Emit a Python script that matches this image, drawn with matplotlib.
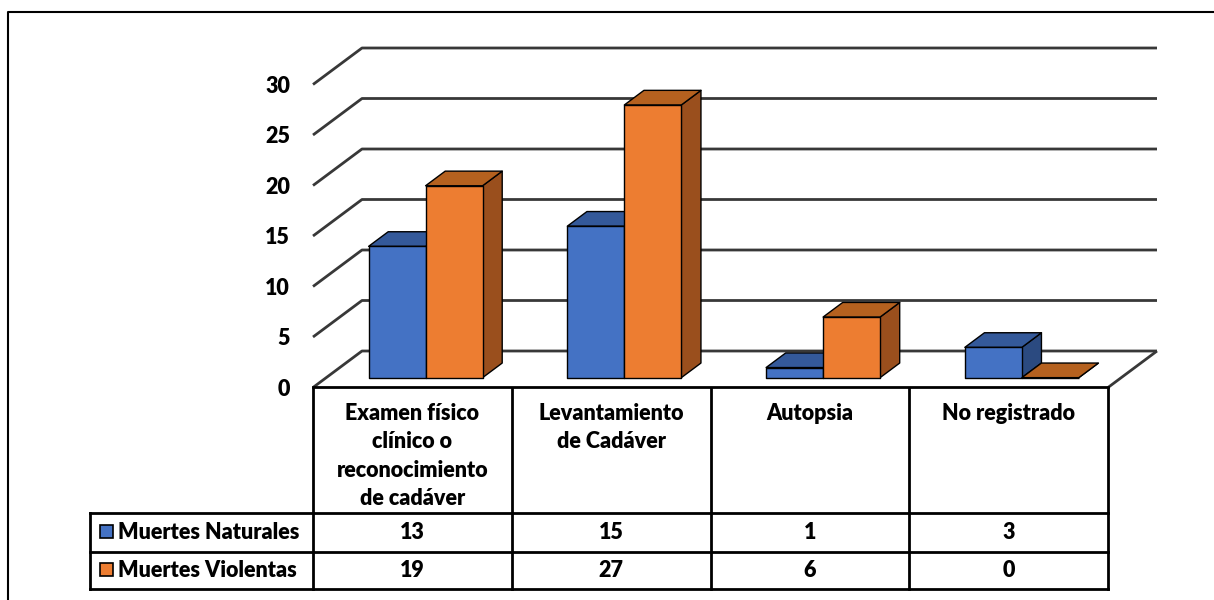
import matplotlib
matplotlib.use("Agg")
import matplotlib.pyplot as plt
from matplotlib.patches import Polygon, Rectangle
from matplotlib.transforms import Affine2D, ScaledTranslation, blended_transform_factory

plt.rcParams['font.family'] = ['Lato', 'DejaVu Sans']

# ---- data ----
categories = ["Examen físico\nclínico o\nreconocimiento\nde cadáver",
              "Levantamiento\nde Cadáver",
              "Autopsia",
              "No registrado"]
series_names = ["Muertes Naturales", "Muertes Violentas"]
naturales = [13, 15, 1, 3]
violentas = [19, 27, 6, 0]
y_ticks = [0, 5, 10, 15, 20, 25, 30]

front_colors = ["#4472C4", "#ED7D31"]
top_colors = ["#34599A", "#B5611F"]
side_colors = ["#2B4A80", "#9A4F1D"]

FS = 15.5
FW = "heavy"

W, H = 1214, 600
fig = plt.figure(figsize=(W / 100, H / 100), dpi=100)
ax = fig.add_axes([0, 0, 1, 1])
ax.axis("off")

# plot scale: one category = cat_px pixels, one unit of value = val_px pixels
cat_px = 198.75
val_px = 10.1
x0_px, y0_px = 313, 387.5
ax.set_xlim(-x0_px / cat_px, (W - x0_px) / cat_px)
ax.set_ylim(-(H - y0_px) / val_px, y0_px / val_px)

# oblique depth offset (full depth of the floor) in data units
DX = 49 / cat_px
DY = 36.5 / val_px
n = len(categories)


def proj(x, v, d):
    return (x + d * DX, v + d * DY)


def down(px):
    """Shift a transform downwards by px pixels."""
    return ScaledTranslation(0, -px / 100, fig.dpi_scale_trans)


grid_kw = dict(color="#383838", lw=2.0, solid_capstyle="butt", zorder=1)

# back wall and left wall grid lines with value labels
tick_tr = ax.transData + down(8.5)
for t in y_ticks:
    xa, ya = proj(0, t, 0)
    xb, yb = proj(0, t, 1)
    xc, yc = proj(n, t, 1)
    ax.plot([xa, xb, xc], [ya, yb, yc], **grid_kw)
    ax.text(-23 / cat_px, t, str(t), ha="right", va="baseline",
            fontsize=FS, fontweight=FW, color="black", transform=tick_tr)

# floor right edge and front edge
xa, ya = proj(n, 0, 0)
xb, yb = proj(n, 0, 1)
ax.plot([xa, xb], [ya, yb], **grid_kw)
ax.plot([0, n], [0, 0], color="black", lw=2, zorder=1)

# bars
bar_w = 57 / cat_px
d0, d1 = 0.27, 0.67
series = [naturales, violentas]
for i in range(n):
    center = i + 0.5
    for s, vals in enumerate(series):
        v = vals[i]
        left = center - bar_w + s * bar_w
        right = left + bar_w
        z = 3 + i * 2 + s
        front = [proj(left, 0, d0), proj(right, 0, d0),
                 proj(right, v, d0), proj(left, v, d0)]
        top = [proj(left, v, d0), proj(right, v, d0),
               proj(right, v, d1), proj(left, v, d1)]
        side = [proj(right, 0, d0), proj(right, 0, d1),
                proj(right, v, d1), proj(right, v, d0)]
        for pts, col in ((side, side_colors[s]), (top, top_colors[s]),
                         (front, front_colors[s])):
            ax.add_patch(Polygon(pts, closed=True, facecolor=col,
                                 edgecolor="black", lw=1.0, zorder=z,
                                 joinstyle="round"))

# ---- data table below the plot ----
pix = Affine2D().scale(1, -1).translate(0, H)
bl = blended_transform_factory(ax.transData, pix)

row_top, row_mid, row_bot = 513, 551.5, 589
legend_left = 90
lw_t = 2.0
for k in range(n + 1):
    ax.plot([k, k], [y0_px, row_bot], color="black", lw=lw_t,
            transform=bl, zorder=6, solid_capstyle="projecting")
for yy in (row_top, row_mid, row_bot):
    ax.plot([legend_left, x0_px + n * cat_px], [yy, yy], color="black",
            lw=lw_t, transform=pix, zorder=6, solid_capstyle="projecting")
ax.plot([legend_left, legend_left], [row_top, row_bot], color="black",
        lw=lw_t, transform=pix, zorder=6, solid_capstyle="projecting")

for i, lab in enumerate(categories):
    ax.text(i + 0.5, 403, lab, ha="center", va="top", fontsize=FS,
            fontweight=FW, linespacing=1.44, transform=bl)

row_centers = [(row_top + row_mid) / 2, (row_mid + row_bot) / 2]
for s, name in enumerate(series_names):
    yc = row_centers[s]
    ax.add_patch(Rectangle((100, yc - 7), 13, 13, facecolor=front_colors[s],
                           edgecolor="black", lw=1.2, transform=pix, zorder=7))
    ax.text(118, yc + 6.3, name, ha="left", va="baseline", fontsize=FS,
            fontweight=FW, transform=pix)
    for i, v in enumerate(series[s]):
        ax.text(i + 0.5, yc + 6.3, str(v), ha="center", va="baseline",
                fontsize=FS, fontweight=FW, transform=bl)

# outer chart frame
ax.plot([8, 8, W + 5], [H + 5, 12, 12], color="black", lw=1.5, transform=pix,
        zorder=8)

fig.savefig("out.png", dpi=100)
